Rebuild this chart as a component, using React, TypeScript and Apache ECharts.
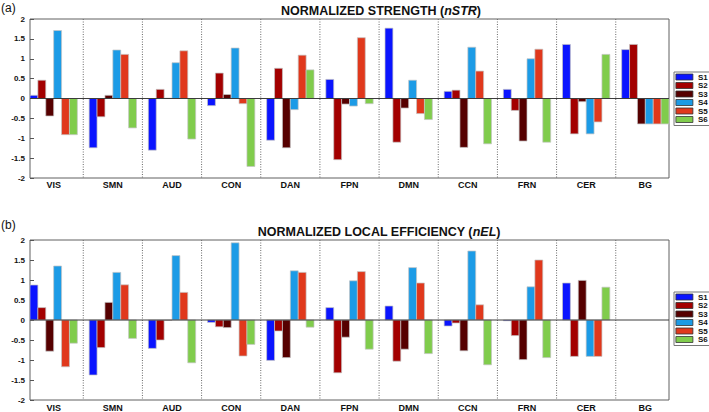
import React, { useEffect, useRef } from "react";
import * as echarts from "echarts";

const categories = ["VIS", "SMN", "AUD", "CON", "DAN", "FPN", "DMN", "CCN", "FRN", "CER", "BG"];
const seriesNames = ["S1", "S2", "S3", "S4", "S5", "S6"];
const yTicks = { min: -2, max: 2, interval: 0.5 };

// Normalized strength (nSTR)
const strS1 = [0.08, -1.24, -1.3, -0.18, -1.05, 0.48, 1.77, 0.18, 0.23, 1.36, 1.23];
const strS2 = [0.46, -0.46, 0.23, 0.64, 0.76, -1.54, -1.1, 0.21, -0.3, -0.89, 1.36];
const strS3 = [-0.44, 0.08, 0.01, 0.1, -1.24, -0.14, -0.24, -1.23, -1.07, -0.08, -0.64];
const strS4 = [1.71, 1.22, 0.9, 1.27, -0.28, -0.19, 0.46, 1.29, 1.0, -0.89, -0.64];
const strS5 = [-0.91, 1.11, 1.2, -0.13, 1.09, 1.53, -0.38, 0.69, 1.24, -0.59, -0.64];
const strS6 = [-0.91, -0.74, -1.02, -1.71, 0.72, -0.13, -0.53, -1.14, -1.1, 1.11, -0.64];

// Normalized local efficiency (nEL)
const elS1 = [0.875, -1.375, -0.71, -0.06, -1.01, 0.31, 0.35, -0.15, -0.02, 0.925, null];
const elS2 = [0.31, -0.69, -0.5, -0.17, -0.275, -1.32, -1.03, -0.075, -0.39, -0.91, null];
const elS3 = [-0.78, 0.44, -0.01, -0.19, -0.94, -0.43, -0.73, -0.77, -0.99, 0.99, null];
const elS4 = [1.35, 1.19, 1.61, 1.93, 1.23, 0.98, 1.31, 1.725, 0.83, -0.91, null];
const elS5 = [-1.17, 0.88, 0.69, -0.9, 1.19, 1.21, 0.925, 0.38, 1.5, -0.91, null];
const elS6 = [-0.58, -0.46, -1.07, -0.61, -0.18, -0.73, -0.84, -1.12, -0.94, 0.82, null];

const strSeries = [strS1, strS2, strS3, strS4, strS5, strS6];
const elSeries = [elS1, elS2, elS3, elS4, elS5, elS6];

const colors = ["#0a14ff", "#a30000", "#560000", "#1c9be6", "#e0381c", "#80cc4c"];
const FONT = "'Liberation Sans', Arial, Helvetica, sans-serif";
const X_MIN = 0.6;
const X_MAX = 11.4;
const GROUP = 0.8;

function barRender(s: number) {
  return (params: any, api: any) => {
    const x = api.value(0);
    const y = api.value(1);
    if (y == null || isNaN(y)) return null;
    const unit = api.size([1, 0])[0];
    const w = (unit * GROUP) / seriesNames.length;
    const base = api.coord([x, 0]);
    const tip = api.coord([x, y]);
    const left = base[0] - (unit * GROUP) / 2 + s * w;
    return {
      type: "rect",
      shape: { x: left, y: Math.min(base[1], tip[1]), width: w, height: Math.abs(tip[1] - base[1]) },
      style: { fill: colors[s], stroke: "#c4c4c4", lineWidth: 0.7 },
    };
  };
}

function dividerRender(params: any, api: any) {
  const x = api.value(0);
  const p1 = api.coord([x, yTicks.max]);
  const p2 = api.coord([x, yTicks.min]);
  return {
    type: "line",
    shape: { x1: p1[0], y1: p1[1], x2: p2[0], y2: p2[1] },
    style: { stroke: "#6a6a6a", lineWidth: 1, lineDash: [1, 1.5] },
  };
}

function zeroRender(params: any, api: any) {
  const p1 = api.coord([X_MIN, 0]);
  const p2 = api.coord([X_MAX, 0]);
  return {
    type: "line",
    shape: { x1: p1[0], y1: p1[1], x2: p2[0], y2: p2[1] },
    style: { stroke: "#3c3c3c", lineWidth: 1 },
  };
}

export default function App() {
  const ref = useRef<HTMLDivElement>(null);
  useEffect(() => {
    if (!ref.current) return;
    const chart = echarts.init(ref.current, null, { renderer: "svg" });
    const dividers = categories.slice(1).map((_, i) => [i + 1.5, 0]);
    const gridIdx = [0, 1];
    const xAxes = gridIdx.map((g) => ({
      type: "value",
      gridIndex: g,
      min: X_MIN,
      max: X_MAX,
      axisLine: { show: false },
      axisTick: { show: false },
      splitLine: { show: false },
      axisLabel: {
        customValues: categories.map((_, i) => i + 1),
        formatter: (v: number) => {
          const k = Math.round(v);
          return Math.abs(v - k) < 1e-6 && k >= 1 && k <= categories.length ? categories[k - 1] : "";
        },
        fontSize: 9,
        fontWeight: "bold",
        fontFamily: FONT,
        color: "#111",
        margin: g === 0 ? 2 : 3,
      },
    }));
    const yAxes = gridIdx.map((g) => ({
      type: "value",
      gridIndex: g,
      min: yTicks.min,
      max: yTicks.max,
      interval: yTicks.interval,
      axisLine: { show: false },
      axisTick: { show: true, inside: true, length: 4, lineStyle: { color: "#555" } },
      splitLine: { show: false },
      axisLabel: { fontSize: 8, fontWeight: "bold", fontFamily: FONT, color: "#111", margin: 5 },
    }));
    const series: any[] = [];
    gridIdx.forEach((g) => {
      const sets = g === 0 ? strSeries : elSeries;
      series.push({
        type: "custom",
        name: "div" + g,
        xAxisIndex: g,
        yAxisIndex: g,
        data: dividers,
        renderItem: dividerRender,
        z: 1,
        silent: true,
      });
      sets.forEach((vals, s) => {
        series.push({
          type: "custom",
          name: seriesNames[s],
          xAxisIndex: g,
          yAxisIndex: g,
          itemStyle: { color: colors[s] },
          data: vals.map((v, i) => [i + 1, v == null ? NaN : v]),
          renderItem: barRender(s),
          z: 2,
        });
      });
      series.push({
        type: "custom",
        name: "zero" + g,
        xAxisIndex: g,
        yAxisIndex: g,
        data: [[X_MIN, 0]],
        renderItem: zeroRender,
        z: 3,
        silent: true,
      });
    });
    const legendBase = {
      data: seriesNames,
      orient: "vertical",
      left: 674,
      icon: "rect",
      itemWidth: 17,
      itemHeight: 6,
      itemGap: 0.5,
      padding: [1, 3, 2, 1.5],
      borderColor: "#777",
      borderWidth: 1,
      backgroundColor: "#fff",
      selectedMode: false,
      itemStyle: { borderColor: "#333", borderWidth: 0.8 },
      textStyle: { fontSize: 8, fontWeight: "bold", fontFamily: FONT, color: "#111", lineHeight: 8 },
    };
    const titleStyle = (text: string, x: number, y: number) => ({
      type: "text",
      x,
      y,
      style: {
        text,
        fontSize: 12.5,
        fontWeight: "bold",
        fontFamily: FONT,
        fill: "#111",
        align: "center",
        verticalAlign: "middle",
        rich: { i: { fontStyle: "italic", fontWeight: "bold", fontSize: 12.5, fontFamily: FONT, fill: "#111" } },
      },
    });
    chart.setOption({
      animation: false,
      backgroundColor: "#fff",
      grid: [
        { left: 30, top: 19, width: 639, height: 159, show: true, borderColor: "#606060", borderWidth: 1, backgroundColor: "transparent" },
        { left: 30, top: 240, width: 639, height: 160, show: true, borderColor: "#606060", borderWidth: 1, backgroundColor: "transparent" },
      ],
      xAxis: xAxes,
      yAxis: yAxes,
      legend: [
        { ...legendBase, top: 72 },
        { ...legendBase, top: 292 },
      ],
      graphic: [
        titleStyle("NORMALIZED STRENGTH ({i|nSTR})", 381, 11),
        titleStyle("NORMALIZED LOCAL EFFICIENCY ({i|nEL})", 379, 232),
        { type: "text", x: 1, y: 8, style: { text: "(a)", fontSize: 12, fontFamily: FONT, fill: "#111", verticalAlign: "middle" } },
        { type: "text", x: 1, y: 225, style: { text: "(b)", fontSize: 12, fontFamily: FONT, fill: "#111", verticalAlign: "middle" } },
      ],
      series,
    });
    return () => chart.dispose();
  }, []);
  return <div ref={ref} style={{ position: "fixed", left: 0, top: 0, width: 709, height: 412 }} />;
}
